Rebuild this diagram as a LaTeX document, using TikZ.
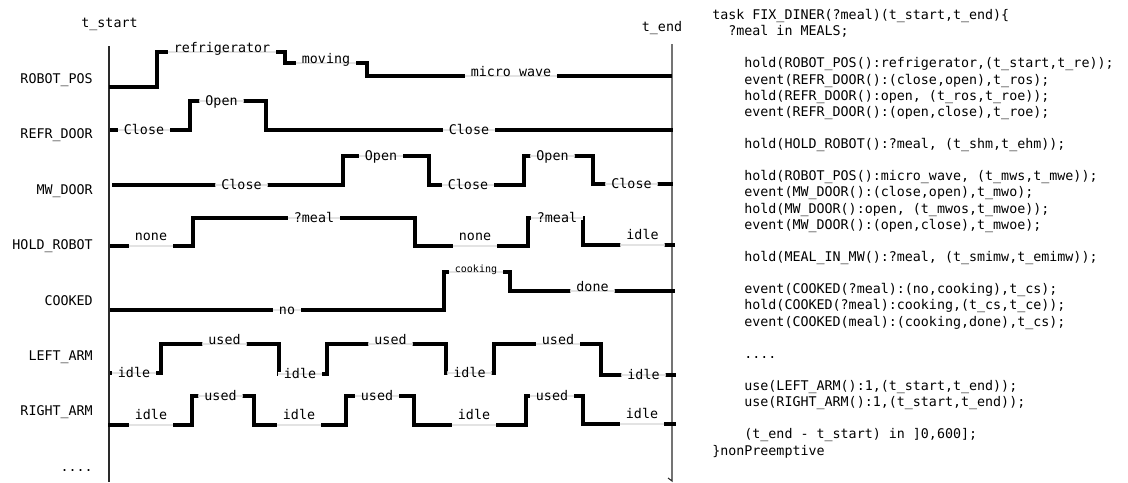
\documentclass[tikz,border=0pt]{standalone}
\usepackage{fontspec}
\usepackage{xcolor}
\usepackage{tikz}
\newfontfamily\diagmono{DejaVu Sans Mono}
\definecolor{StripGray}{HTML}{E3E3E3}
\definecolor{AxisGray}{HTML}{2A2A2A}

\begin{document}
\begin{tikzpicture}[x=0.75pt, y=-0.75pt,
    every node/.style={font=\diagmono\fontsize{10pt}{12.1pt}\selectfont},
    signal/.style={line width=2.5pt, line join=miter, color=black},
    axis/.style={line width=0.8pt, color=AxisGray},
    rowname/.style={anchor=base east, inner sep=0pt},
    tag/.style={inner xsep=4.5pt, inner ysep=0pt,
                path picture={\draw[line width=3.4pt, white] (path picture bounding box.west) -- (path picture bounding box.east);
                              \draw[line width=2pt, StripGray] (path picture bounding box.west) -- (path picture bounding box.east);}},
    tag mid/.style={tag, text height=6pt, text depth=0pt},
    tag on/.style={tag, text height=6pt, text depth=6pt},
    tag up/.style={tag, text height=3pt, text depth=12pt},
    code/.style={anchor=north west, inner sep=0pt, align=left}
]
\useasboundingbox (0,0) rectangle (1128,482);

% time axes
\coordinate (ts top) at (109,46);
\coordinate (ts bot) at (109,482);
\coordinate (te top) at (672,44);
\coordinate (te bot) at (672,481);
\coordinate (te hook) at (668,478);
\draw[axis] (ts top) -- (ts bot);
\draw[axis] (te top) -- (te bot) -- (te hook);
\node[anchor=base, inner sep=0pt] (tstart) at (109.5,27) {t\_start};
\node[anchor=base, inner sep=0pt] (tend) at (662,31.5) {t\_end};

% state variables
\node[rowname] (npos)  at (93,83)    {ROBOT\_POS};
\node[rowname] (nrefr) at (93,138.5) {REFR\_DOOR};
\node[rowname] (nmw)   at (93,194)   {MW\_DOOR};
\node[rowname] (nhold) at (93,249)   {HOLD\_ROBOT};
\node[rowname] (ncook) at (93,305)   {COOKED};
\node[rowname] (nleft) at (93,360)   {LEFT\_ARM};
\node[rowname] (nrght) at (93,415.5) {RIGHT\_ARM};
\node[rowname] (nmore) at (93,471)   {....};

% timelines
\draw[signal] (109,87) -| (157,52) -| (285,63) -| (367,76) -- (672,76);
\draw[signal] (110,130) -| (190,101) -| (266,130) -- (673,130);
\draw[signal] (112,185) -| (343,156) -| (429,185) -| (524,156) -| (593,184) -- (673,184);
\draw[signal] (110,246) -| (193,218) -| (415,246) -| (528,218) -| (583,245) -- (675,245);
\draw[signal] (110,310) -| (444,272) -| (510,291) -- (675,291);
\draw[signal] (110,373) -| (161,344) -| (279,374) -| (327,344) -| (446,373) -| (494,344) -| (601,375) -- (676,375);
\draw[signal] (108,425) -| (192,396) -| (254,425) -| (346,396) -| (414,425) -| (526,396) -| (583,424) -- (676,424);

\node[tag on] (pos1) at (222,52) {refrigerator};
\node[tag on] (pos2) at (326,63) {moving};
\node[tag on] (pos3) at (511,76) {micro wave};

\node[tag mid] (refr1) at (144,130)   {Close};
\node[tag mid] (refr2) at (221.5,101) {Open};
\node[tag mid] (refr3) at (469,130)   {Close};

\node[tag mid] (mw1) at (241.5,185) {Close};
\node[tag mid] (mw2) at (381,156)   {Open};
\node[tag mid] (mw3) at (468,185)   {Close};
\node[tag mid] (mw4) at (552.5,156) {Open};
\node[tag mid] (mw5) at (631.5,184) {Close};

\node[tag up]  (hold1) at (151,246)   {none};
\node[tag mid] (hold2) at (314,218)   {?meal};
\node[tag up]  (hold3) at (475,246)   {none};
\node[tag mid] (hold4) at (557,218)   {?meal};
\node[tag up]  (hold5) at (642.5,245) {idle};

\node[tag mid] (cook1) at (287,310) {no};
\node[tag on, font=\diagmono\fontsize{7.5pt}{9pt}\selectfont] (cook2) at (476,272) {cooking};
\node[tag on]  (cook3) at (592.5,291) {done};

\node[tag mid] (left1) at (134,373)   {idle};
\node[tag on]  (left2) at (224.5,344) {used};
\node[tag mid] (left3) at (300,374)   {idle};
\node[tag on]  (left4) at (390.5,344) {used};
\node[tag mid] (left5) at (469.5,373) {idle};
\node[tag on]  (left6) at (558,344)   {used};
\node[tag mid] (left7) at (643.5,375) {idle};

\node[tag up]  (rght1) at (151,425)   {idle};
\node[tag mid] (rght2) at (220.5,396) {used};
\node[tag up]  (rght3) at (299,425)   {idle};
\node[tag mid] (rght4) at (377,396)   {used};
\node[tag up]  (rght5) at (474,425)   {idle};
\node[tag mid] (rght6) at (552,396)   {used};
\node[tag up]  (rght7) at (642,424)   {idle};

% task description
\node[code] (spec) at (712,9) {%
task FIX\_DINER(?meal)(t\_start,t\_end)\{\\
\hphantom{xx}?meal in MEALS;\\[12.1pt]
\hphantom{xxxx}hold(ROBOT\_POS():refrigerator,(t\_start,t\_re));\\
\hphantom{xxxx}event(REFR\_DOOR():(close,open),t\_ros);\\
\hphantom{xxxx}hold(REFR\_DOOR():open, (t\_ros,t\_roe));\\
\hphantom{xxxx}event(REFR\_DOOR():(open,close),t\_roe);\\[12.1pt]
\hphantom{xxxx}hold(HOLD\_ROBOT():?meal, (t\_shm,t\_ehm));\\[12.1pt]
\hphantom{xxxx}hold(ROBOT\_POS():micro\_wave, (t\_mws,t\_mwe));\\
\hphantom{xxxx}event(MW\_DOOR():(close,open),t\_mwo);\\
\hphantom{xxxx}hold(MW\_DOOR():open, (t\_mwos,t\_mwoe));\\
\hphantom{xxxx}event(MW\_DOOR():(open,close),t\_mwoe);\\[12.1pt]
\hphantom{xxxx}hold(MEAL\_IN\_MW():?meal, (t\_smimw,t\_emimw));\\[12.1pt]
\hphantom{xxxx}event(COOKED(?meal):(no,cooking),t\_cs);\\
\hphantom{xxxx}hold(COOKED(?meal):cooking,(t\_cs,t\_ce));\\
\hphantom{xxxx}event(COOKED(meal):(cooking,done),t\_cs);\\[12.1pt]
\hphantom{xxxx}....\\[12.1pt]
\hphantom{xxxx}use(LEFT\_ARM():1,(t\_start,t\_end));\\
\hphantom{xxxx}use(RIGHT\_ARM():1,(t\_start,t\_end));\\[12.1pt]
\hphantom{xxxx}(t\_end - t\_start) in ]0,600];\\
\}nonPreemptive};

\end{tikzpicture}
\end{document}
